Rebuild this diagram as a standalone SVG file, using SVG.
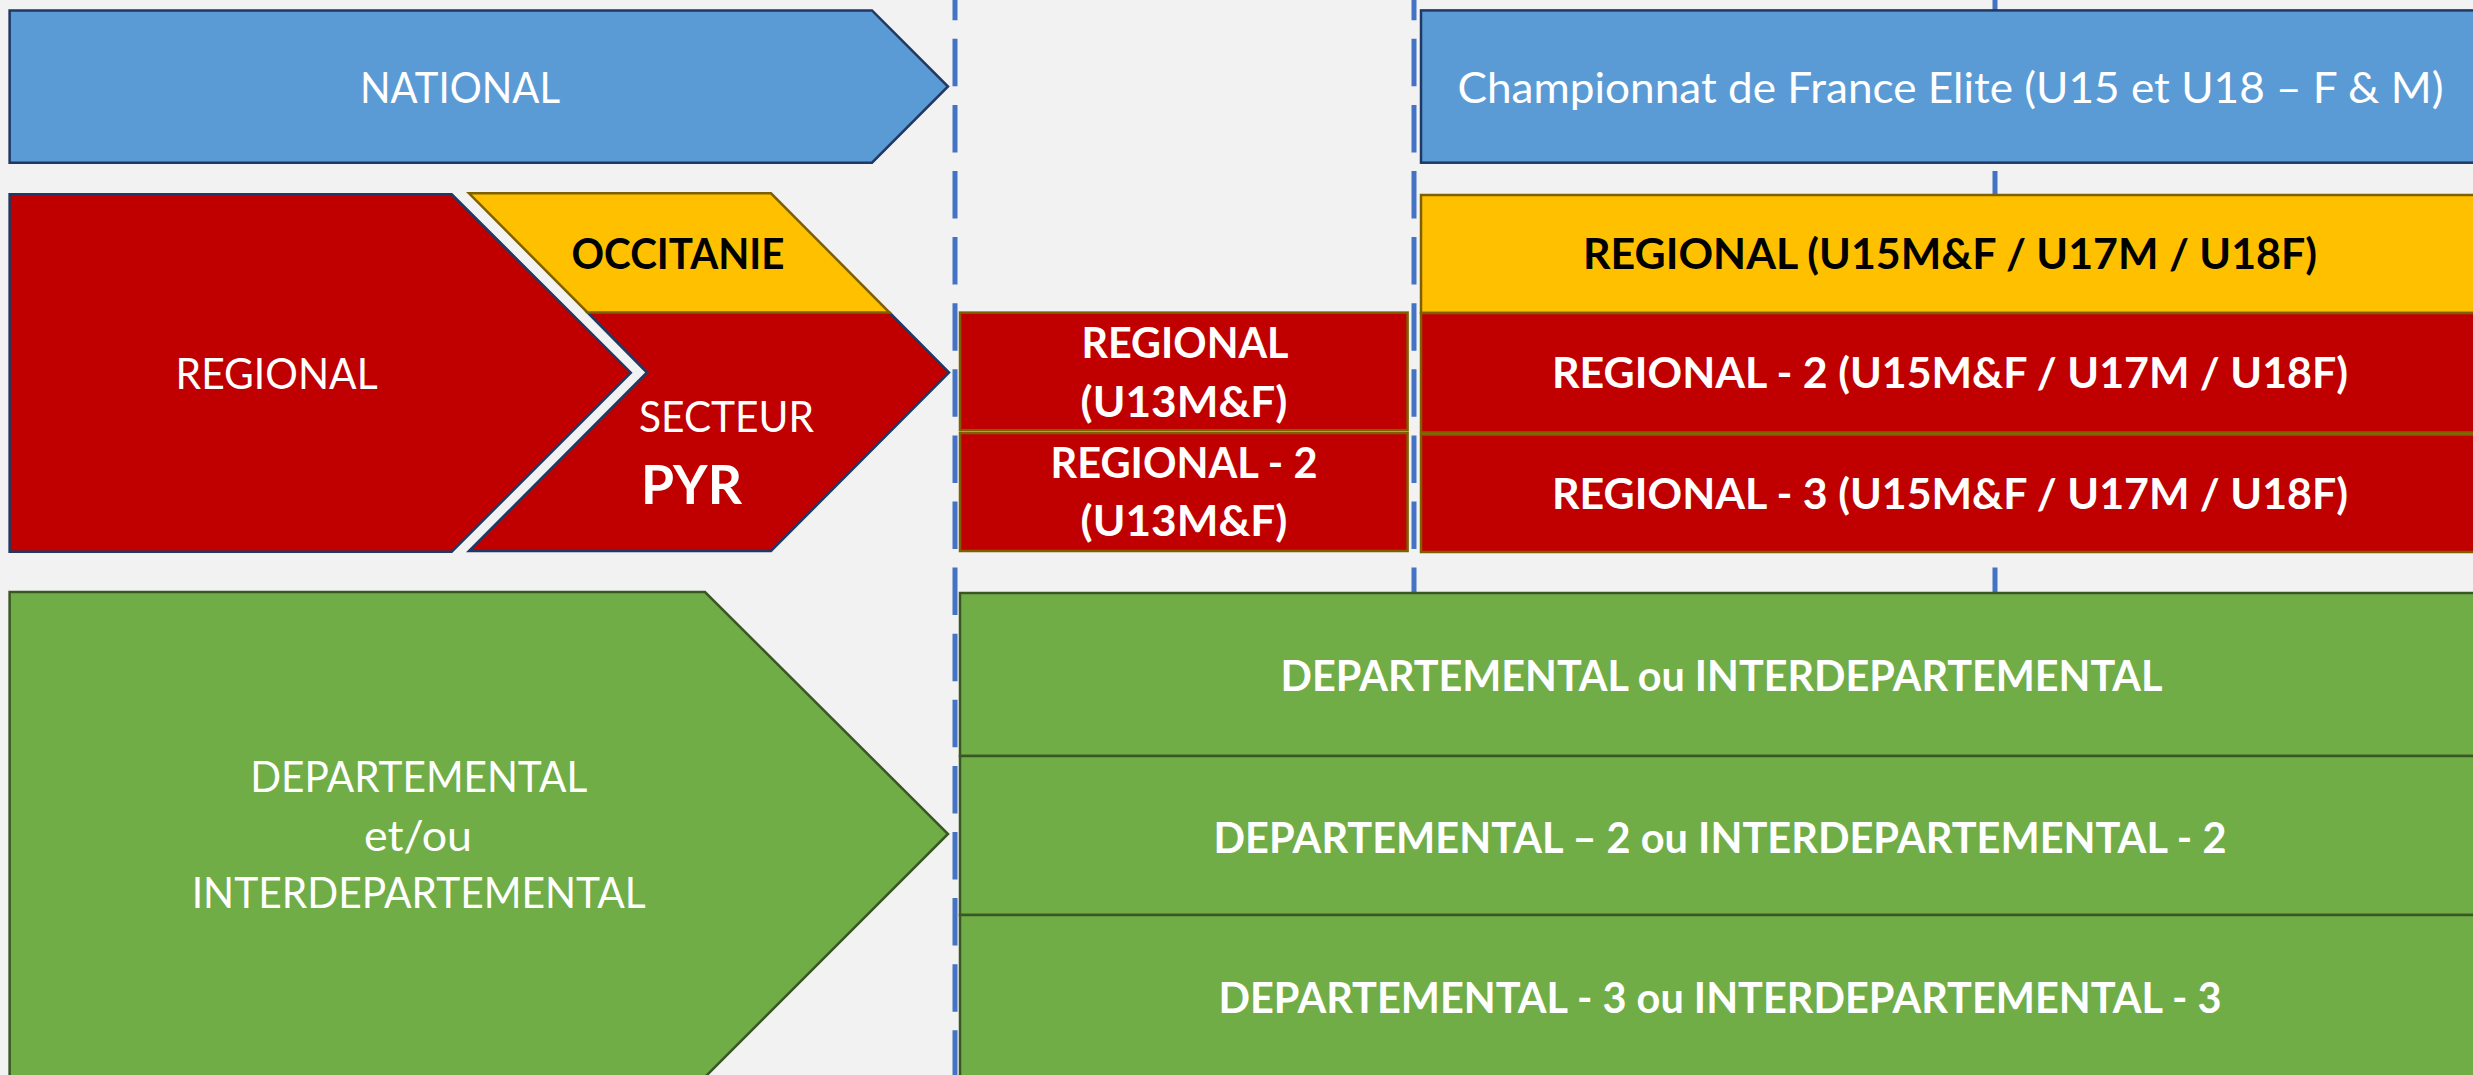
<svg xmlns="http://www.w3.org/2000/svg" width="2473" height="1075" viewBox="0 0 2473 1075">
<style>
  .bg{fill:#F2F2F2}
  .blue{fill:#5B9BD5;stroke:#1F3864;stroke-width:2.5}
  .redn{fill:#C00000;stroke:#1F3864;stroke-width:2.5}
  .redo{fill:#C00000;stroke:#7F6000;stroke-width:2.5}
  .yel{fill:#FFC000;stroke:#7F6000;stroke-width:2.5}
  .grn{fill:#70AD47;stroke:#385723;stroke-width:2.5}
  .dash{stroke:#4472C4;stroke-width:5;fill:none;stroke-dasharray:47.5 18.6;stroke-dashoffset:27.3}
  text{font-family:Lato,"Open Sans","Liberation Sans",sans-serif;font-size:42px}
  .w{fill:#FFFFFF}
  .k{fill:#000000}
  .b{font-weight:bold}
  .m{text-anchor:middle}
</style>
<rect class="bg" x="0" y="0" width="2473" height="1075"/>
<g id="separators">
  <line class="dash" x1="955" y1="0" x2="955" y2="1075"/>
  <line class="dash" x1="1414" y1="0" x2="1414" y2="1075"/>
  <line class="dash" x1="1995" y1="0" x2="1995" y2="1075"/>
</g>
<g id="national">
  <polygon class="blue" points="9.6,10.4 872,10.4 948,86.5 872,162.7 9.6,162.7"/>
  <text class="w m" x="460" y="103" textLength="200" lengthAdjust="spacingAndGlyphs">NATIONAL</text>
</g>
<g id="regional">
  <polygon class="redn" points="9.6,194.3 451.7,194.3 630.8,372.7 451.7,551.7 9.6,551.7"/>
  <text class="w m" x="276.6" y="389" textLength="202" lengthAdjust="spacingAndGlyphs">REGIONAL</text>
</g>
<g id="secteur-pyr">
  <polygon class="redn" points="587.5,312.5 889.5,312.5 949,372.5 771,551 469,551 647,372.5"/>
  <text class="w" x="639" y="432" textLength="175" lengthAdjust="spacingAndGlyphs">SECTEUR</text>
  <text class="w b" x="641" y="504" style="font-size:54px" textLength="101" lengthAdjust="spacingAndGlyphs">PYR</text>
</g>
<g id="occitanie">
  <polygon class="yel" points="469,193.3 771,193.3 889.5,312.5 587.5,312.5"/>
  <text class="k b m" x="678" y="269.3" textLength="213" lengthAdjust="spacingAndGlyphs">OCCITANIE</text>
</g>
<g id="departemental">
  <polygon class="grn" points="9.6,592 705,592 948,834 705,1077 9.6,1077"/>
  <text class="w m" x="418.7" y="792.3" textLength="337" lengthAdjust="spacingAndGlyphs">DEPARTEMENTAL</text>
  <text class="w m" x="418" y="851" textLength="108" lengthAdjust="spacingAndGlyphs">et/ou</text>
  <text class="w m" x="418.7" y="907.7" textLength="454" lengthAdjust="spacingAndGlyphs">INTERDEPARTEMENTAL</text>
</g>
<g id="regional-u13">
  <rect class="redo" x="960" y="312.6" width="447.6" height="117.6"/>
  <text class="w b m" x="1185" y="358" textLength="207" lengthAdjust="spacingAndGlyphs">REGIONAL</text>
  <text class="w b m" x="1184" y="417.3" textLength="207" lengthAdjust="spacingAndGlyphs">(U13M&amp;F)</text>
</g>
<g id="regional-2-u13">
  <rect class="redo" x="960" y="433" width="447.6" height="118"/>
  <text class="w b m" x="1184" y="478.4" textLength="267" lengthAdjust="spacingAndGlyphs">REGIONAL - 2</text>
  <text class="w b m" x="1184" y="536.4" textLength="207" lengthAdjust="spacingAndGlyphs">(U13M&amp;F)</text>
</g>
<g id="championnat-france-elite">
  <rect class="blue" x="1421" y="10.4" width="1060" height="152.3"/>
  <text class="w m" x="1950.5" y="103" style="font-size:43px" textLength="986" lengthAdjust="spacingAndGlyphs">Championnat de France Elite (U15 et U18 – F &amp; M)</text>
</g>
<g id="regional-u15">
  <rect class="yel" x="1421" y="195" width="1060" height="118"/>
  <text class="k b m" x="1950" y="269.3" textLength="734" lengthAdjust="spacingAndGlyphs">REGIONAL (U15M&amp;F / U17M / U18F)</text>
</g>
<g id="regional-2-u15">
  <rect class="redo" x="1421" y="313" width="1060" height="119.5"/>
  <text class="w b m" x="1950" y="388" textLength="796" lengthAdjust="spacingAndGlyphs">REGIONAL - 2 (U15M&amp;F / U17M / U18F)</text>
</g>
<g id="regional-3-u15">
  <rect class="redo" x="1421" y="434.5" width="1060" height="117.5"/>
  <text class="w b m" x="1950" y="509.3" textLength="796" lengthAdjust="spacingAndGlyphs">REGIONAL - 3 (U15M&amp;F / U17M / U18F)</text>
</g>
<g id="departemental-1">
  <rect class="grn" x="960" y="593" width="1521" height="163"/>
  <text class="w b m" x="1721.5" y="691" textLength="882" lengthAdjust="spacingAndGlyphs">DEPARTEMENTAL ou INTERDEPARTEMENTAL</text>
</g>
<g id="departemental-2">
  <rect class="grn" x="960" y="756" width="1521" height="159"/>
  <text class="w b m" x="1720" y="853" textLength="1013" lengthAdjust="spacingAndGlyphs">DEPARTEMENTAL – 2 ou INTERDEPARTEMENTAL - 2</text>
</g>
<g id="departemental-3">
  <rect class="grn" x="960" y="915" width="1521" height="165"/>
  <text class="w b m" x="1720" y="1012.7" textLength="1003" lengthAdjust="spacingAndGlyphs">DEPARTEMENTAL - 3 ou INTERDEPARTEMENTAL - 3</text>
</g>
</svg>
